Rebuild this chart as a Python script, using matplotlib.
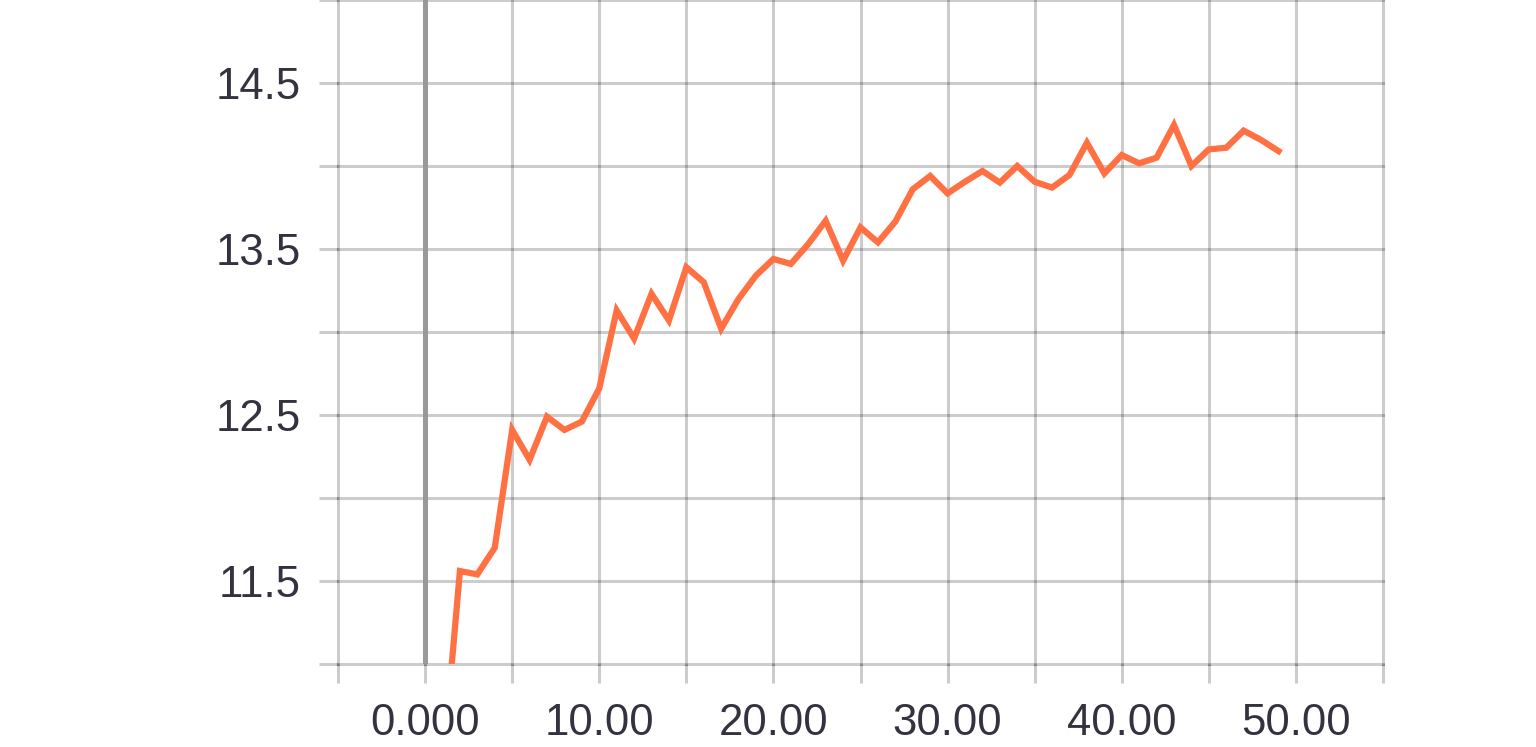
import numpy as np
import matplotlib
matplotlib.use("Agg")
import matplotlib.pyplot as plt

# ---- data ----
steps = list(range(0, 50))
values = [9.0, 10.36, 11.56, 11.54, 11.70, 12.41, 12.23, 12.49, 12.41, 12.46,
          12.66, 13.13, 12.96, 13.23, 13.07, 13.39, 13.30, 13.02, 13.20, 13.34,
          13.44, 13.41, 13.53, 13.67, 13.43, 13.63, 13.54, 13.665, 13.86, 13.94,
          13.835, 13.905, 13.97, 13.90, 14.00, 13.905, 13.87, 13.946, 14.14, 13.955,
          14.066, 14.016, 14.05, 14.247, 14.00, 14.10, 14.11, 14.213, 14.157, 14.09]

x_ticks = list(range(-5, 60, 5))
x_tick_labels = ["", "0.000", "", "10.00", "", "20.00", "", "30.00", "", "40.00", "", "50.00", ""]
y_ticks = [11.0, 11.5, 12.0, 12.5, 13.0, 13.5, 14.0, 14.5, 15.0]
y_tick_labels = ["", "11.5", "", "12.5", "", "13.5", "", "14.5", ""]

plt.rcParams['font.family'] = ['Liberation Sans', 'DejaVu Sans']

W, H, DPI = 1536, 747, 100
fig = plt.figure(figsize=(W / DPI, H / DPI), dpi=DPI)
ax = fig.add_axes([338 / W, 1 - 664 / H, (1383 - 338) / W, 664 / H])

grid_rgba = (0, 0, 0, 0.2)
label_color = '#33323f'

ax.set_xlim(-5, 55)
ax.set_ylim(11, 15)
ax.set_xticks(x_ticks)
ax.set_xticklabels(x_tick_labels)
ax.set_yticks(y_ticks)
ax.set_yticklabels(y_tick_labels)

for s in ax.spines.values():
    s.set_visible(False)

ax.grid(True, color='black', alpha=0.2, linewidth=2.2)
ax.set_axisbelow(True)
for ln in ax.get_xgridlines() + ax.get_ygridlines():
    ln.set_clip_on(False)

ax.tick_params(axis='both', which='major', color=grid_rgba, width=2.2,
               length=14, labelsize=31.5, labelcolor=label_color)
ax.tick_params(axis='x', pad=14)
ax.tick_params(axis='y', pad=13)

ax.axvline(0, color='#999999', linewidth=3.6, zorder=1.5)

ax.plot(steps, values, color='#ff7043', linewidth=4.5, zorder=3,
        solid_joinstyle='miter')

fig.savefig('out.png', dpi=DPI)
